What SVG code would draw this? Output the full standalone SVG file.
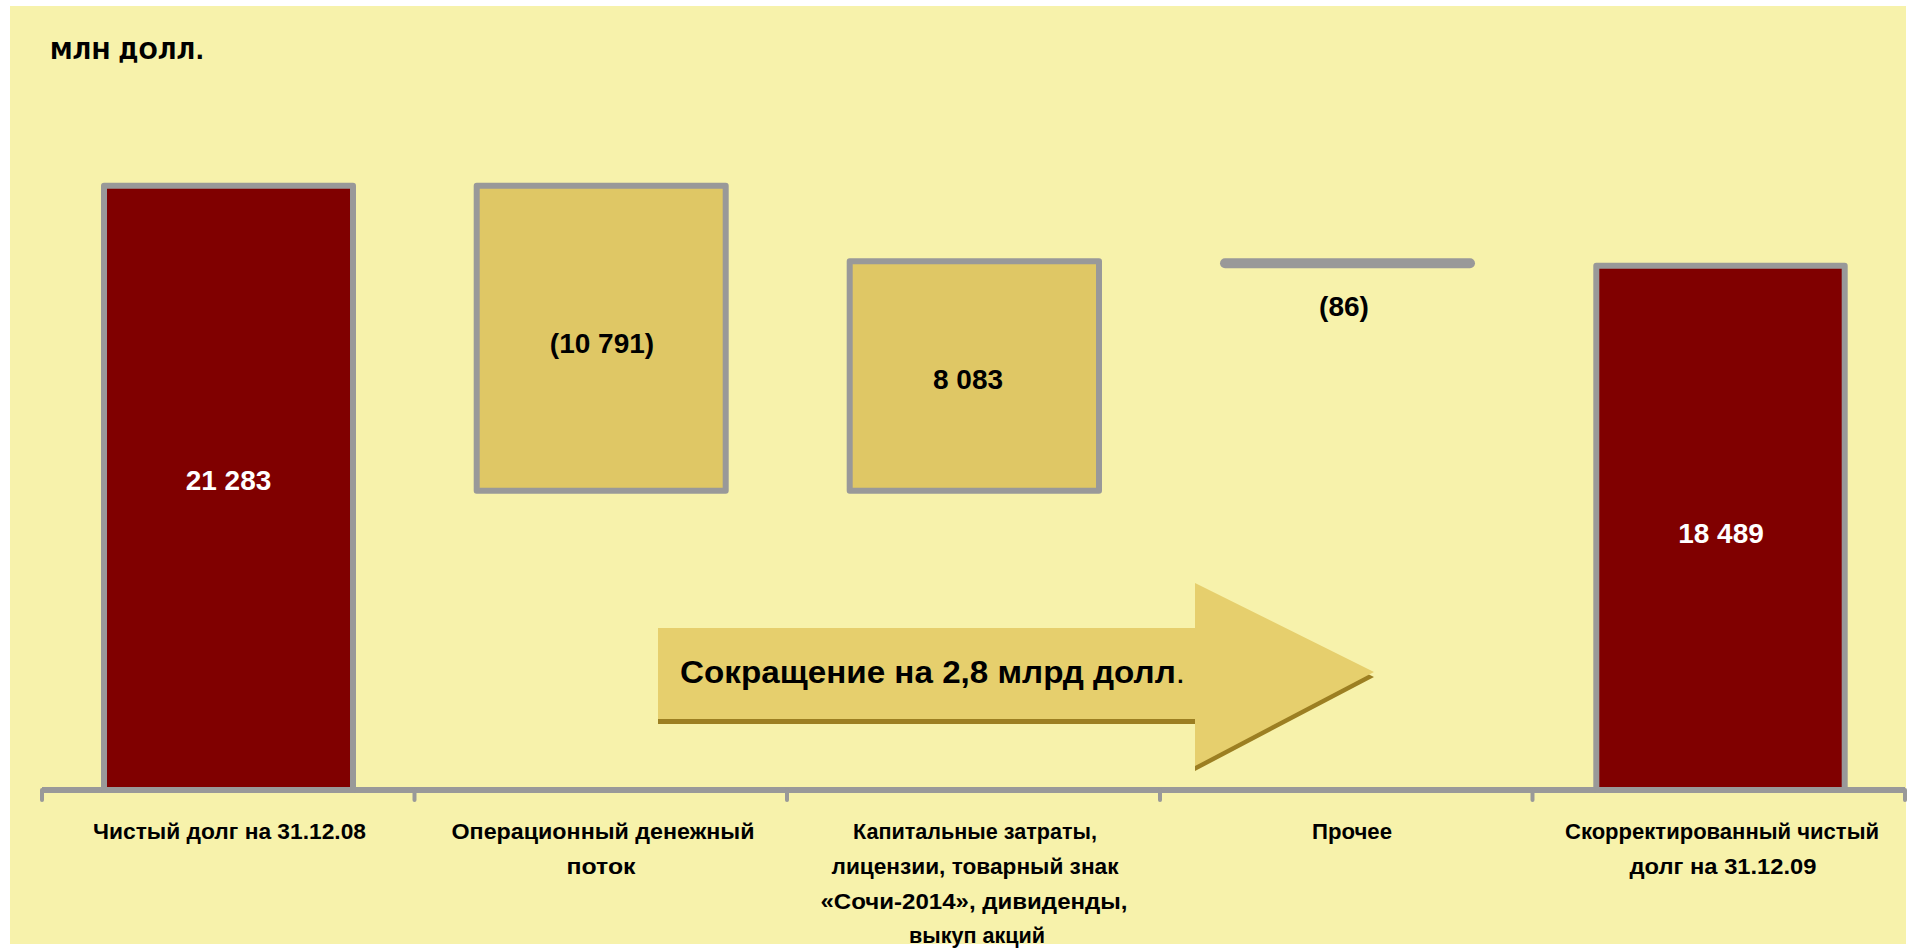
<svg xmlns="http://www.w3.org/2000/svg" width="1912" height="950" viewBox="0 0 1912 950">
<style>
.bar{stroke:#999999;stroke-width:6;stroke-linejoin:round}
.red{fill:#800000}
.gold{fill:#dfc765}
.val{font-family:"Liberation Sans",Arial,sans-serif;font-weight:bold;font-size:28px;text-anchor:middle}
.cat{font-family:"Liberation Sans",Arial,sans-serif;font-weight:bold;font-size:22px;text-anchor:middle;fill:#000}
.tick{stroke:#999999;stroke-width:4;stroke-linecap:round}
</style>
<rect x="0" y="0" width="1912" height="950" fill="#ffffff"/>
<rect x="10" y="6" width="1896" height="938" fill="#f7f2ab"/>
<text x="50" y="59" font-family="'DejaVu Sans',sans-serif" font-weight="bold" font-size="23" textLength="154" lengthAdjust="spacingAndGlyphs">МЛН ДОЛЛ.</text>

<g id="connectors">
<line x1="42" y1="790" x2="1905" y2="790" stroke="#999999" stroke-width="6"/>
<line class="tick" x1="42" y1="790" x2="42" y2="800"/>
<line class="tick" x1="414.5" y1="790" x2="414.5" y2="800"/>
<line class="tick" x1="787" y1="790" x2="787" y2="800"/>
<line class="tick" x1="1160" y1="790" x2="1160" y2="800"/>
<line class="tick" x1="1532.5" y1="790" x2="1532.5" y2="800"/>
<line class="tick" x1="1905" y1="790" x2="1905" y2="800"/>
</g>

<g id="bar1">
<rect class="bar red" x="104" y="185.7" width="249" height="604.3"/>
<text class="val" x="228.5" y="490" fill="#ffffff">21 283</text>
<text class="cat" x="229.5" y="839" textLength="273" lengthAdjust="spacingAndGlyphs">Чистый долг на 31.12.08</text>
</g>

<g id="bar2">
<rect class="bar gold" x="476.7" y="185.7" width="249" height="305"/>
<text class="val" x="602" y="353" fill="#000000">(10 791)</text>
<text class="cat" x="603" y="839" textLength="303" lengthAdjust="spacingAndGlyphs">Операционный денежный</text>
<text class="cat" x="601" y="874" textLength="69" lengthAdjust="spacingAndGlyphs">поток</text>
</g>

<g id="bar3">
<rect class="bar gold" x="849.7" y="261.3" width="249.3" height="229.4"/>
<text class="val" x="968" y="389" fill="#000000">8 083</text>
<text class="cat" x="975" y="839" textLength="244" lengthAdjust="spacingAndGlyphs">Капитальные затраты,</text>
<text class="cat" x="975" y="874" textLength="287" lengthAdjust="spacingAndGlyphs">лицензии, товарный знак</text>
<text class="cat" x="974" y="909" textLength="307" lengthAdjust="spacingAndGlyphs">«Сочи-2014», дивиденды,</text>
<text class="cat" x="977" y="943" textLength="136" lengthAdjust="spacingAndGlyphs">выкуп акций</text>
</g>

<g id="bar4">
<line x1="1225" y1="263.3" x2="1470" y2="263.3" stroke="#999999" stroke-width="10" stroke-linecap="round"/>
<text class="val" x="1344" y="316" fill="#000000">(86)</text>
<text class="cat" x="1352" y="839" textLength="80" lengthAdjust="spacingAndGlyphs">Прочее</text>
</g>

<g id="bar5">
<rect class="bar red" x="1596.3" y="265.7" width="248.4" height="524.3"/>
<text class="val" x="1721" y="543" fill="#ffffff">18 489</text>
<text class="cat" x="1722" y="839" textLength="314" lengthAdjust="spacingAndGlyphs">Скорректированный чистый</text>
<text class="cat" x="1723" y="874" textLength="187" lengthAdjust="spacingAndGlyphs">долг на 31.12.09</text>
</g>

<g id="arrow">
<polygon points="658,633 1195,633 1195,588 1374,677 1195,771 1195,724 658,724" fill="#9c7f22"/>
<polygon points="658,628 1195,628 1195,583 1374,672 1195,766 1195,719 658,719" fill="#e6cf6d"/>
<text x="680" y="683" font-family="'Liberation Sans',Arial,sans-serif" font-size="31" fill="#000000" textLength="505" lengthAdjust="spacingAndGlyphs"><tspan font-weight="bold">Сокращение на 2,8 млрд долл</tspan>.</text>
</g>
</svg>
